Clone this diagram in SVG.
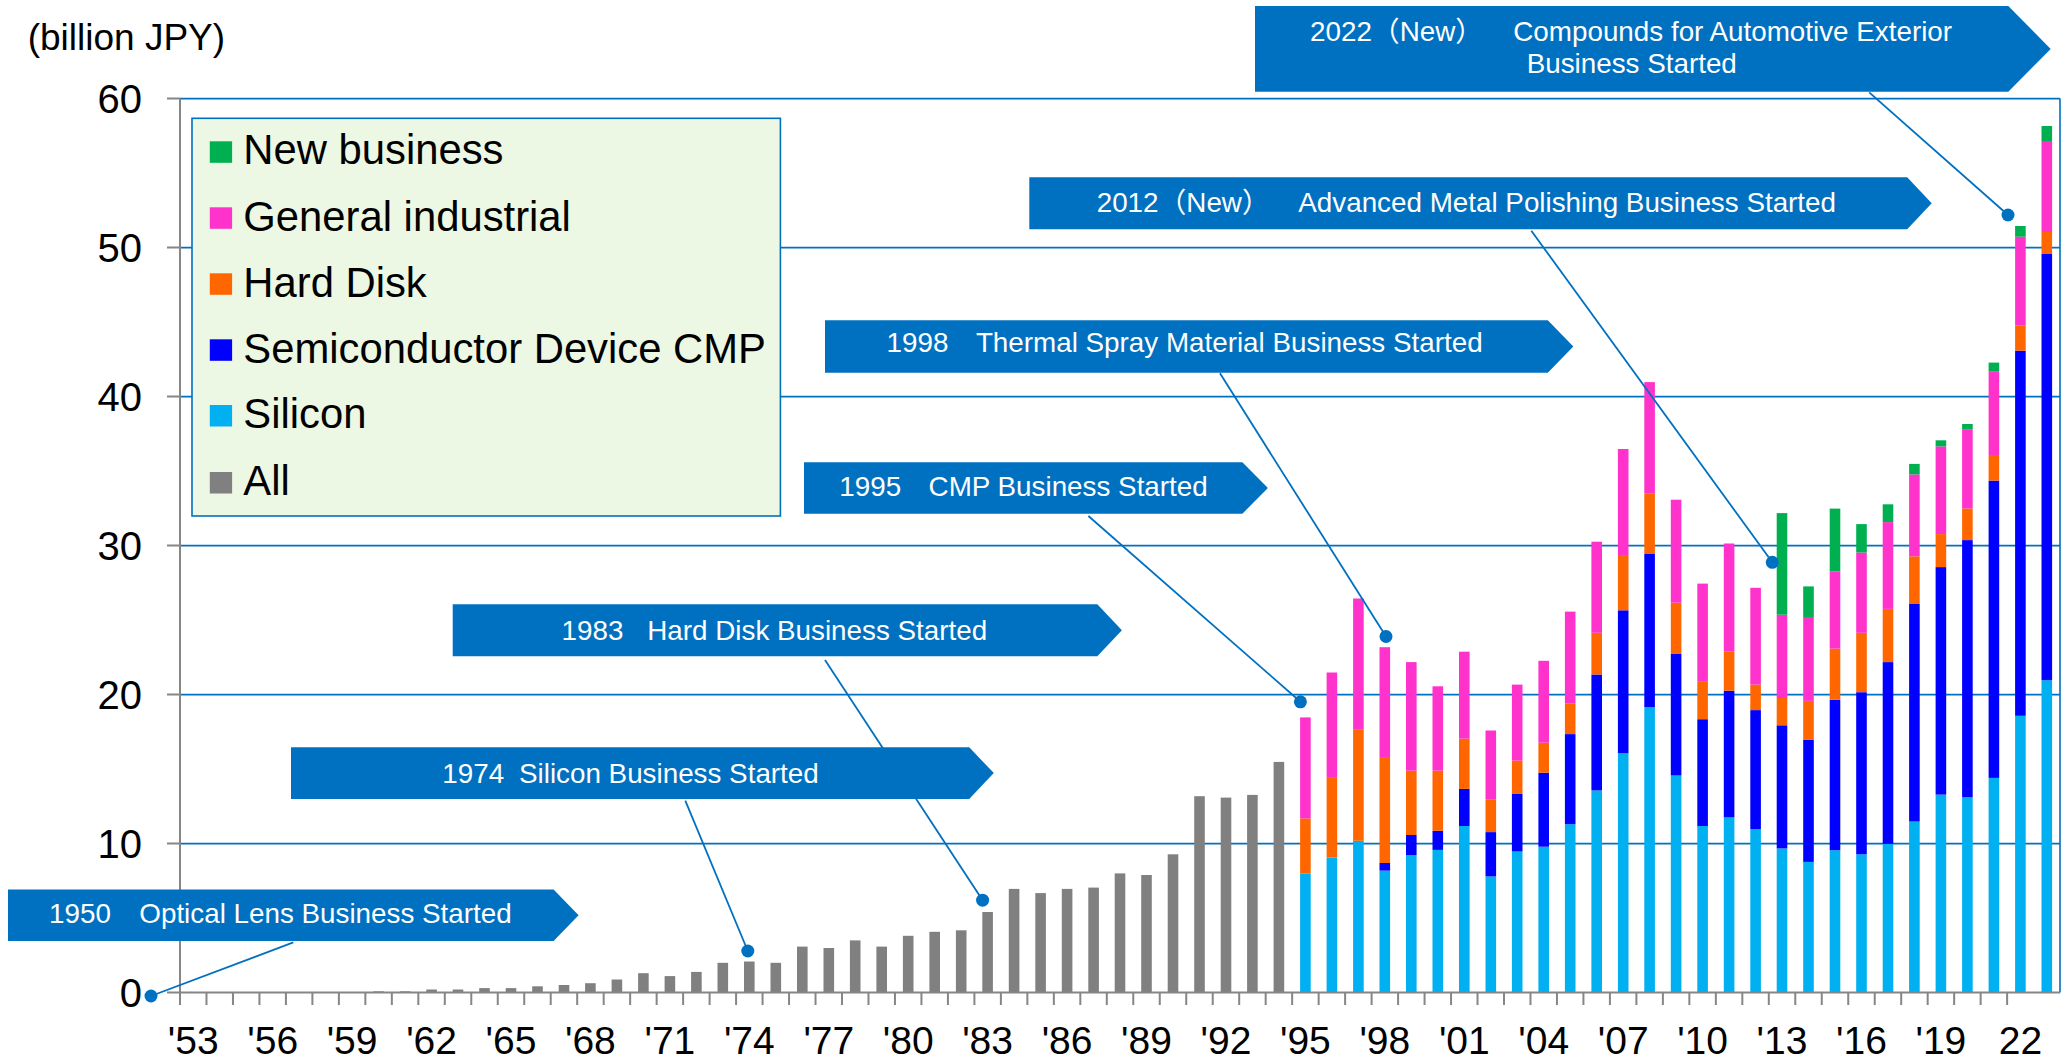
<svg xmlns="http://www.w3.org/2000/svg" width="2067" height="1062" viewBox="0 0 2067 1062">
<style>
text{font-family:"Liberation Sans","Noto Sans CJK JP",Arial,sans-serif}
.a{fill:#808080}.c{fill:#00B0F0}.b{fill:#0000FF}.o{fill:#FF6600}.p{fill:#FF33CC}.g{fill:#00B050}
.grid{stroke:#0070C0;stroke-width:1.6;fill:none}
.axis{stroke:#868686;stroke-width:2;fill:none}
.ban{fill:#0070C0}
.bt{fill:#ffffff;font-size:27.8px}
.lead{stroke:#0070C0;stroke-width:1.8;fill:none}
.dot{fill:#0070C0}
.yl{font-size:40px;fill:#000;text-anchor:end}
.xl{font-size:39px;fill:#000;text-anchor:middle}
.lg{font-size:41.8px;fill:#000}
</style>
<rect x="0" y="0" width="2067" height="1062" fill="#ffffff"/>
<g id="gridlines">
<path class="grid" d="M180 98.6H2060M180 247.6H2060M180 396.6H2060M180 545.6H2060M180 694.6H2060M180 843.6H2060M2060 98.6V992.6"/>
</g>
<g id="bars">
<rect class="a" x="373.3" y="991.3" width="10.6" height="1.3"/>
<rect class="a" x="399.8" y="991.3" width="10.6" height="1.3"/>
<rect class="a" x="426.3" y="989.5" width="10.6" height="3.1"/>
<rect class="a" x="452.7" y="989.5" width="10.6" height="3.1"/>
<rect class="a" x="479.2" y="988.1" width="10.6" height="4.5"/>
<rect class="a" x="505.7" y="988.1" width="10.6" height="4.5"/>
<rect class="a" x="532.2" y="986.3" width="10.6" height="6.3"/>
<rect class="a" x="558.7" y="985.0" width="10.6" height="7.6"/>
<rect class="a" x="585.1" y="983.2" width="10.6" height="9.4"/>
<rect class="a" x="611.6" y="979.5" width="10.6" height="13.1"/>
<rect class="a" x="638.1" y="973.2" width="10.6" height="19.4"/>
<rect class="a" x="664.6" y="976.1" width="10.6" height="16.5"/>
<rect class="a" x="691.1" y="971.9" width="10.6" height="20.7"/>
<rect class="a" x="717.5" y="962.8" width="10.6" height="29.8"/>
<rect class="a" x="744.0" y="961.5" width="10.6" height="31.1"/>
<rect class="a" x="770.5" y="962.8" width="10.6" height="29.8"/>
<rect class="a" x="797.0" y="946.6" width="10.6" height="46.0"/>
<rect class="a" x="823.5" y="948.0" width="10.6" height="44.6"/>
<rect class="a" x="849.9" y="940.4" width="10.6" height="52.2"/>
<rect class="a" x="876.4" y="946.6" width="10.6" height="46.0"/>
<rect class="a" x="902.9" y="935.8" width="10.6" height="56.8"/>
<rect class="a" x="929.4" y="931.8" width="10.6" height="60.8"/>
<rect class="a" x="955.9" y="930.3" width="10.6" height="62.3"/>
<rect class="a" x="982.3" y="912.0" width="10.6" height="80.6"/>
<rect class="a" x="1008.8" y="888.9" width="10.6" height="103.7"/>
<rect class="a" x="1035.3" y="893.1" width="10.6" height="99.5"/>
<rect class="a" x="1061.8" y="888.9" width="10.6" height="103.7"/>
<rect class="a" x="1088.3" y="887.6" width="10.6" height="105.0"/>
<rect class="a" x="1114.7" y="873.4" width="10.6" height="119.2"/>
<rect class="a" x="1141.2" y="875.0" width="10.6" height="117.6"/>
<rect class="a" x="1167.7" y="854.3" width="10.6" height="138.3"/>
<rect class="a" x="1194.2" y="796.2" width="10.6" height="196.4"/>
<rect class="a" x="1220.7" y="797.6" width="10.6" height="195.0"/>
<rect class="a" x="1247.1" y="794.9" width="10.6" height="197.7"/>
<rect class="a" x="1273.6" y="761.9" width="10.6" height="230.7"/>
<!-- 1995 -->
<rect class="c" x="1300.1" y="873.7" width="10.6" height="118.9"/>
<rect class="o" x="1300.1" y="818.4" width="10.6" height="55.3"/>
<rect class="p" x="1300.1" y="717.4" width="10.6" height="101.0"/>
<!-- 1996 -->
<rect class="c" x="1326.6" y="857.5" width="10.6" height="135.1"/>
<rect class="o" x="1326.6" y="777.9" width="10.6" height="79.6"/>
<rect class="p" x="1326.6" y="672.5" width="10.6" height="105.4"/>
<!-- 1997 -->
<rect class="c" x="1353.1" y="840.8" width="10.6" height="151.8"/>
<rect class="o" x="1353.1" y="729.2" width="10.6" height="111.6"/>
<rect class="p" x="1353.1" y="598.5" width="10.6" height="130.7"/>
<!-- 1998 -->
<rect class="c" x="1379.5" y="870.6" width="10.6" height="122.0"/>
<rect class="b" x="1379.5" y="863.0" width="10.6" height="7.6"/>
<rect class="o" x="1379.5" y="757.9" width="10.6" height="105.1"/>
<rect class="p" x="1379.5" y="647.2" width="10.6" height="110.7"/>
<!-- 1999 -->
<rect class="c" x="1406.0" y="855.1" width="10.6" height="137.5"/>
<rect class="b" x="1406.0" y="835.0" width="10.6" height="20.1"/>
<rect class="o" x="1406.0" y="770.6" width="10.6" height="64.4"/>
<rect class="p" x="1406.0" y="662.1" width="10.6" height="108.5"/>
<!-- 2000 -->
<rect class="c" x="1432.5" y="849.9" width="10.6" height="142.7"/>
<rect class="b" x="1432.5" y="830.8" width="10.6" height="19.1"/>
<rect class="o" x="1432.5" y="770.6" width="10.6" height="60.2"/>
<rect class="p" x="1432.5" y="686.3" width="10.6" height="84.3"/>
<!-- 2001 -->
<rect class="c" x="1459.0" y="826.0" width="10.6" height="166.6"/>
<rect class="b" x="1459.0" y="788.9" width="10.6" height="37.1"/>
<rect class="o" x="1459.0" y="738.6" width="10.6" height="50.3"/>
<rect class="p" x="1459.0" y="651.7" width="10.6" height="86.9"/>
<!-- 2002 -->
<rect class="c" x="1485.5" y="876.4" width="10.6" height="116.2"/>
<rect class="b" x="1485.5" y="832.1" width="10.6" height="44.3"/>
<rect class="o" x="1485.5" y="799.3" width="10.6" height="32.8"/>
<rect class="p" x="1485.5" y="730.5" width="10.6" height="68.8"/>
<!-- 2003 -->
<rect class="c" x="1511.9" y="851.5" width="10.6" height="141.1"/>
<rect class="b" x="1511.9" y="793.5" width="10.6" height="58.0"/>
<rect class="o" x="1511.9" y="760.6" width="10.6" height="32.9"/>
<rect class="p" x="1511.9" y="684.6" width="10.6" height="76.0"/>
<!-- 2004 -->
<rect class="c" x="1538.4" y="846.7" width="10.6" height="145.9"/>
<rect class="b" x="1538.4" y="772.7" width="10.6" height="74.0"/>
<rect class="o" x="1538.4" y="742.7" width="10.6" height="30.0"/>
<rect class="p" x="1538.4" y="660.8" width="10.6" height="81.9"/>
<!-- 2005 -->
<rect class="c" x="1564.9" y="824.2" width="10.6" height="168.4"/>
<rect class="b" x="1564.9" y="734.1" width="10.6" height="90.1"/>
<rect class="o" x="1564.9" y="703.5" width="10.6" height="30.6"/>
<rect class="p" x="1564.9" y="611.6" width="10.6" height="91.9"/>
<!-- 2006 -->
<rect class="c" x="1591.4" y="790.4" width="10.6" height="202.2"/>
<rect class="b" x="1591.4" y="674.5" width="10.6" height="115.9"/>
<rect class="o" x="1591.4" y="632.8" width="10.6" height="41.7"/>
<rect class="p" x="1591.4" y="541.7" width="10.6" height="91.1"/>
<!-- 2007 -->
<rect class="c" x="1617.9" y="753.3" width="10.6" height="239.3"/>
<rect class="b" x="1617.9" y="610.3" width="10.6" height="143.0"/>
<rect class="o" x="1617.9" y="555.0" width="10.6" height="55.3"/>
<rect class="p" x="1617.9" y="449.0" width="10.6" height="106.0"/>
<!-- 2008 -->
<rect class="c" x="1644.3" y="707.1" width="10.6" height="285.5"/>
<rect class="b" x="1644.3" y="554.0" width="10.6" height="153.1"/>
<rect class="o" x="1644.3" y="493.7" width="10.6" height="60.3"/>
<rect class="p" x="1644.3" y="382.1" width="10.6" height="111.6"/>
<!-- 2009 -->
<rect class="c" x="1670.8" y="775.5" width="10.6" height="217.1"/>
<rect class="b" x="1670.8" y="653.5" width="10.6" height="122.0"/>
<rect class="o" x="1670.8" y="602.7" width="10.6" height="50.8"/>
<rect class="p" x="1670.8" y="499.7" width="10.6" height="103.0"/>
<!-- 2010 -->
<rect class="c" x="1697.3" y="826.0" width="10.6" height="166.6"/>
<rect class="b" x="1697.3" y="719.2" width="10.6" height="106.8"/>
<rect class="o" x="1697.3" y="681.8" width="10.6" height="37.4"/>
<rect class="p" x="1697.3" y="583.6" width="10.6" height="98.2"/>
<!-- 2011 -->
<rect class="c" x="1723.8" y="817.4" width="10.6" height="175.2"/>
<rect class="b" x="1723.8" y="690.7" width="10.6" height="126.7"/>
<rect class="o" x="1723.8" y="651.7" width="10.6" height="39.0"/>
<rect class="p" x="1723.8" y="543.5" width="10.6" height="108.2"/>
<!-- 2012 -->
<rect class="c" x="1750.3" y="829.1" width="10.6" height="163.5"/>
<rect class="b" x="1750.3" y="710.1" width="10.6" height="119.0"/>
<rect class="o" x="1750.3" y="684.6" width="10.6" height="25.5"/>
<rect class="p" x="1750.3" y="587.8" width="10.6" height="96.8"/>
<!-- 2013 -->
<rect class="c" x="1776.7" y="848.4" width="10.6" height="144.2"/>
<rect class="b" x="1776.7" y="725.3" width="10.6" height="123.1"/>
<rect class="o" x="1776.7" y="698.0" width="10.6" height="27.3"/>
<rect class="p" x="1776.7" y="614.7" width="10.6" height="83.3"/>
<rect class="g" x="1776.7" y="513.1" width="10.6" height="101.6"/>
<!-- 2014 -->
<rect class="c" x="1803.2" y="861.9" width="10.6" height="130.7"/>
<rect class="b" x="1803.2" y="739.9" width="10.6" height="122.0"/>
<rect class="o" x="1803.2" y="700.9" width="10.6" height="39.0"/>
<rect class="p" x="1803.2" y="617.9" width="10.6" height="83.0"/>
<rect class="g" x="1803.2" y="586.4" width="10.6" height="31.5"/>
<!-- 2015 -->
<rect class="c" x="1829.7" y="850.2" width="10.6" height="142.4"/>
<rect class="b" x="1829.7" y="699.8" width="10.6" height="150.4"/>
<rect class="o" x="1829.7" y="648.6" width="10.6" height="51.2"/>
<rect class="p" x="1829.7" y="571.5" width="10.6" height="77.1"/>
<rect class="g" x="1829.7" y="508.6" width="10.6" height="62.9"/>
<!-- 2016 -->
<rect class="c" x="1856.2" y="854.3" width="10.6" height="138.3"/>
<rect class="b" x="1856.2" y="692.2" width="10.6" height="162.1"/>
<rect class="o" x="1856.2" y="632.8" width="10.6" height="59.4"/>
<rect class="p" x="1856.2" y="552.5" width="10.6" height="80.3"/>
<rect class="g" x="1856.2" y="524.1" width="10.6" height="28.4"/>
<!-- 2017 -->
<rect class="c" x="1882.7" y="843.9" width="10.6" height="148.7"/>
<rect class="b" x="1882.7" y="662.1" width="10.6" height="181.8"/>
<rect class="o" x="1882.7" y="608.9" width="10.6" height="53.2"/>
<rect class="p" x="1882.7" y="522.1" width="10.6" height="86.8"/>
<rect class="g" x="1882.7" y="504.3" width="10.6" height="17.8"/>
<!-- 2018 -->
<rect class="c" x="1909.1" y="821.5" width="10.6" height="171.1"/>
<rect class="b" x="1909.1" y="604.0" width="10.6" height="217.5"/>
<rect class="o" x="1909.1" y="556.3" width="10.6" height="47.7"/>
<rect class="p" x="1909.1" y="474.4" width="10.6" height="81.9"/>
<rect class="g" x="1909.1" y="463.9" width="10.6" height="10.5"/>
<!-- 2019 -->
<rect class="c" x="1935.6" y="794.6" width="10.6" height="198.0"/>
<rect class="b" x="1935.6" y="567.1" width="10.6" height="227.5"/>
<rect class="o" x="1935.6" y="534.1" width="10.6" height="33.0"/>
<rect class="p" x="1935.6" y="446.4" width="10.6" height="87.7"/>
<rect class="g" x="1935.6" y="440.3" width="10.6" height="6.1"/>
<!-- 2020 -->
<rect class="c" x="1962.1" y="797.3" width="10.6" height="195.3"/>
<rect class="b" x="1962.1" y="540.1" width="10.6" height="257.2"/>
<rect class="o" x="1962.1" y="508.4" width="10.6" height="31.7"/>
<rect class="p" x="1962.1" y="429.7" width="10.6" height="78.7"/>
<rect class="g" x="1962.1" y="424.0" width="10.6" height="5.7"/>
<!-- 2021 -->
<rect class="c" x="1988.6" y="777.9" width="10.6" height="214.7"/>
<rect class="b" x="1988.6" y="480.6" width="10.6" height="297.3"/>
<rect class="o" x="1988.6" y="455.0" width="10.6" height="25.6"/>
<rect class="p" x="1988.6" y="371.7" width="10.6" height="83.3"/>
<rect class="g" x="1988.6" y="362.6" width="10.6" height="9.1"/>
<!-- 2022 -->
<rect class="c" x="2015.1" y="715.8" width="10.6" height="276.8"/>
<rect class="b" x="2015.1" y="350.7" width="10.6" height="365.1"/>
<rect class="o" x="2015.1" y="325.4" width="10.6" height="25.3"/>
<rect class="p" x="2015.1" y="236.7" width="10.6" height="88.7"/>
<rect class="g" x="2015.1" y="226.0" width="10.6" height="10.7"/>
<!-- 2023 -->
<rect class="c" x="2041.5" y="680.2" width="10.6" height="312.4"/>
<rect class="b" x="2041.5" y="254.0" width="10.6" height="426.2"/>
<rect class="o" x="2041.5" y="232.0" width="10.6" height="22.0"/>
<rect class="p" x="2041.5" y="141.0" width="10.6" height="91.0"/>
<rect class="g" x="2041.5" y="126.0" width="10.6" height="15.0"/>
</g>
<g id="axes">
<path class="axis" d="M180 98.6V1005M167 992.6H2060"/>
<path class="axis" d="M167 98.6h13M167 247.6h13M167 396.6h13M167 545.6h13M167 694.6h13M167 843.6h13"/>
<path class="axis" d="M180 992.6v12.5m26.48-12.5v12.5m26.48-12.5v12.5m26.48-12.5v12.5m26.48-12.5v12.5m26.48-12.5v12.5m26.48-12.5v12.5m26.48-12.5v12.5m26.48-12.5v12.5m26.48-12.5v12.5m26.48-12.5v12.5m26.48-12.5v12.5m26.48-12.5v12.5m26.48-12.5v12.5m26.48-12.5v12.5m26.48-12.5v12.5m26.48-12.5v12.5m26.48-12.5v12.5m26.48-12.5v12.5m26.48-12.5v12.5m26.48-12.5v12.5m26.48-12.5v12.5m26.48-12.5v12.5m26.48-12.5v12.5m26.48-12.5v12.5m26.48-12.5v12.5m26.48-12.5v12.5m26.48-12.5v12.5m26.48-12.5v12.5m26.48-12.5v12.5m26.48-12.5v12.5m26.48-12.5v12.5m26.48-12.5v12.5m26.48-12.5v12.5m26.48-12.5v12.5m26.48-12.5v12.5m26.48-12.5v12.5m26.48-12.5v12.5m26.48-12.5v12.5m26.48-12.5v12.5m26.48-12.5v12.5m26.48-12.5v12.5m26.48-12.5v12.5m26.48-12.5v12.5m26.48-12.5v12.5m26.48-12.5v12.5m26.48-12.5v12.5m26.48-12.5v12.5m26.48-12.5v12.5m26.48-12.5v12.5m26.48-12.5v12.5m26.48-12.5v12.5m26.48-12.5v12.5m26.48-12.5v12.5m26.48-12.5v12.5m26.48-12.5v12.5m26.48-12.5v12.5m26.48-12.5v12.5m26.48-12.5v12.5m26.48-12.5v12.5m26.48-12.5v12.5m26.48-12.5v12.5m26.48-12.5v12.5m26.48-12.5v12.5m26.48-12.5v12.5m26.48-12.5v12.5m26.48-12.5v12.5m26.48-12.5v12.5m26.48-12.5v12.5m26.48-12.5v12.5"/>
<text x="27.7" y="50" style="font-size:37px;fill:#000">(billion JPY)</text>
<text class="yl" x="142" y="113.1">60</text>
<text class="yl" x="142" y="262.1">50</text>
<text class="yl" x="142" y="411.1">40</text>
<text class="yl" x="142" y="560.1">30</text>
<text class="yl" x="142" y="709.1">20</text>
<text class="yl" x="142" y="858.1">10</text>
<text class="yl" x="142" y="1007.1">0</text>
<text class="xl" x="193.2" y="1054">'53</text>
<text class="xl" x="272.7" y="1054">'56</text>
<text class="xl" x="352.1" y="1054">'59</text>
<text class="xl" x="431.6" y="1054">'62</text>
<text class="xl" x="511.0" y="1054">'65</text>
<text class="xl" x="590.4" y="1054">'68</text>
<text class="xl" x="669.9" y="1054">'71</text>
<text class="xl" x="749.3" y="1054">'74</text>
<text class="xl" x="828.8" y="1054">'77</text>
<text class="xl" x="908.2" y="1054">'80</text>
<text class="xl" x="987.6" y="1054">'83</text>
<text class="xl" x="1067.1" y="1054">'86</text>
<text class="xl" x="1146.5" y="1054">'89</text>
<text class="xl" x="1226.0" y="1054">'92</text>
<text class="xl" x="1305.4" y="1054">'95</text>
<text class="xl" x="1384.8" y="1054">'98</text>
<text class="xl" x="1464.3" y="1054">'01</text>
<text class="xl" x="1543.7" y="1054">'04</text>
<text class="xl" x="1623.2" y="1054">'07</text>
<text class="xl" x="1702.6" y="1054">'10</text>
<text class="xl" x="1782.0" y="1054">'13</text>
<text class="xl" x="1861.5" y="1054">'16</text>
<text class="xl" x="1940.9" y="1054">'19</text>
<text class="xl" x="2020.4" y="1054">22</text>
</g>
<g id="legend">
<rect x="192" y="118.3" width="588.4" height="397.7" fill="#ECF7E4" stroke="#0070C0" stroke-width="1.6"/>
<rect class="g" x="209.8" y="141.3" width="22.3" height="21.5"/>
<rect class="p" x="209.8" y="207.3" width="22.3" height="21.5"/>
<rect class="o" x="209.8" y="273.3" width="22.3" height="21.5"/>
<rect class="b" x="209.8" y="339.3" width="22.3" height="21.5"/>
<rect class="c" x="209.8" y="405" width="22.3" height="21.5"/>
<rect class="a" x="209.8" y="472" width="22.3" height="21.5"/>
<text class="lg" x="243.3" y="164">New business</text>
<text class="lg" x="243.3" y="230.7">General industrial</text>
<text class="lg" x="243.3" y="296.7">Hard Disk</text>
<text class="lg" x="243.3" y="362.7">Semiconductor Device CMP</text>
<text class="lg" x="243.3" y="428.3">Silicon</text>
<text class="lg" x="243.3" y="495">All</text>
</g>
<g id="banner-1950">
<polygon class="ban" points="8,889.5 553.6,889.5 578.6,915.2 553.6,941 8,941"/>
<text class="bt" y="922.7"><tspan x="49">1950 </tspan><tspan x="139.3">Optical Lens Business Started</tspan></text>
</g>
<g id="banner-1974">
<polygon class="ban" points="291,747.3 969.2,747.3 993.8,773.1 969.2,799 291,799"/>
<text class="bt" y="783.3"><tspan x="442.3">1974 </tspan><tspan x="519">Silicon Business Started</tspan></text>
</g>
<g id="banner-1983">
<polygon class="ban" points="452.7,604.3 1097.3,604.3 1121.9,630.3 1097.3,656.2 452.7,656.2"/>
<text class="bt" y="640"><tspan x="561.6">1983 </tspan><tspan x="647.3">Hard Disk Business Started</tspan></text>
</g>
<g id="banner-1995">
<polygon class="ban" points="804,462.3 1242.4,462.3 1267.9,488 1242.4,513.7 804,513.7"/>
<text class="bt" y="495.7"><tspan x="839.3">1995 </tspan><tspan x="928.6">CMP Business Started</tspan></text>
</g>
<g id="banner-1998">
<polygon class="ban" points="825,320.3 1547.8,320.3 1573.3,346.5 1547.8,372.7 825,372.7"/>
<text class="bt" y="352.3"><tspan x="886.6">1998 </tspan><tspan x="975.9">Thermal Spray Material Business Started</tspan></text>
</g>
<g id="banner-2012">
<polygon class="ban" points="1029.3,177.3 1907.2,177.3 1931.7,203.3 1907.2,229.3 1029.3,229.3"/>
<text class="bt" y="211.7"><tspan x="1096.7">2012（New） </tspan><tspan x="1298.3">Advanced Metal Polishing Business Started</tspan></text>
</g>
<g id="banner-2022">
<polygon class="ban" points="1255,6 2008.3,6 2050.7,48.9 2008.3,91.7 1255,91.7"/>
<text class="bt" y="40.7"><tspan x="1310">2022（New） </tspan><tspan x="1513.3">Compounds for Automotive Exterior</tspan></text>
<text class="bt" x="1526.7" y="73.3">Business Started</text>
</g>
<g id="connectors">
<path class="lead" d="M293.3 942.4L151 996"/>
<path class="lead" d="M685.3 800.7L747.8 951"/>
<path class="lead" d="M825 660L982.6 900.2"/>
<path class="lead" d="M1088.4 516L1300.4 701.8"/>
<path class="lead" d="M1220 373.3L1386 636.5"/>
<path class="lead" d="M1531.3 230.7L1772.3 562.3"/>
<path class="lead" d="M1869.2 92.3L2008 215"/>
<circle class="dot" cx="151" cy="996" r="6.5"/>
<circle class="dot" cx="747.8" cy="951" r="6.5"/>
<circle class="dot" cx="982.6" cy="900.2" r="6.5"/>
<circle class="dot" cx="1300.4" cy="701.8" r="6.5"/>
<circle class="dot" cx="1386" cy="636.5" r="6.5"/>
<circle class="dot" cx="1772.3" cy="562.3" r="6.5"/>
<circle class="dot" cx="2008" cy="215" r="6.5"/>
</g>
</svg>
